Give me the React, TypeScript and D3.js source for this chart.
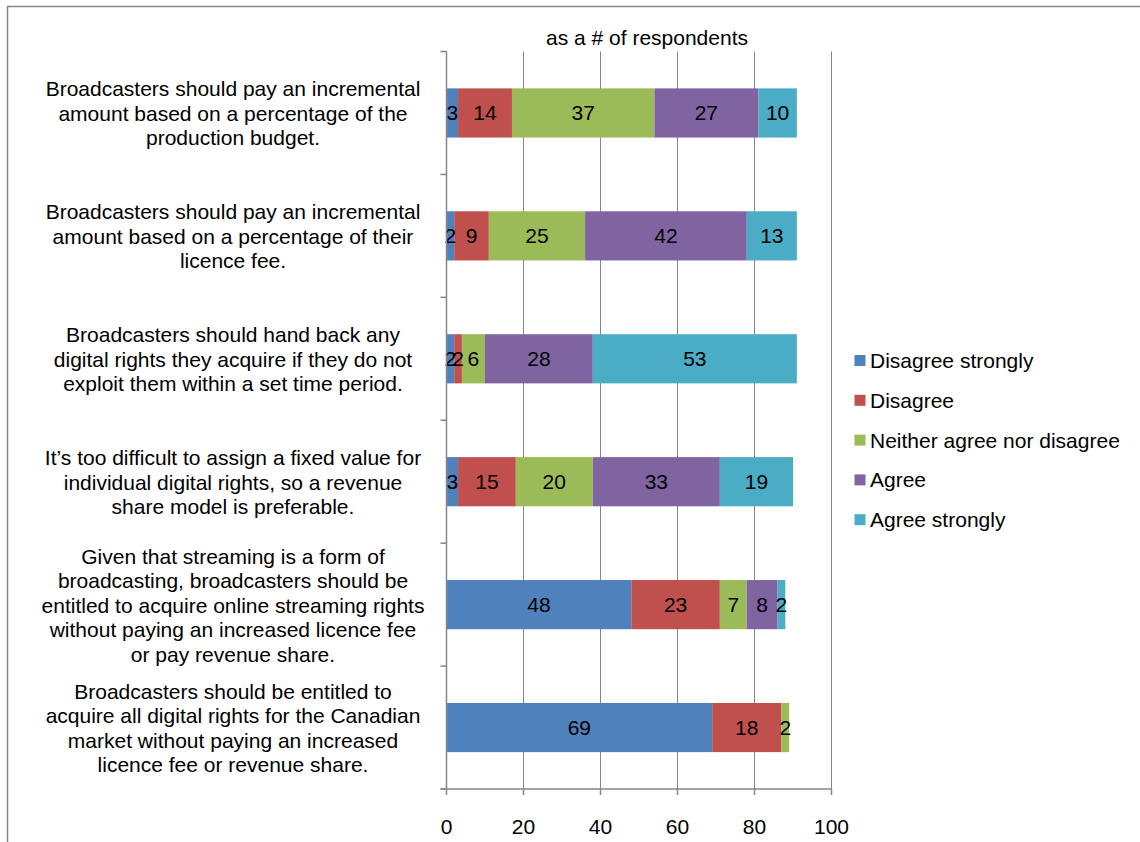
import React from "react";
import * as d3 from "d3";

// Survey statements (top to bottom), each wrapped over several lines
const statements: string[][] = [
  ["Broadcasters should pay an incremental", "amount based on a percentage of the", "production budget."],
  ["Broadcasters should pay an incremental", "amount based on a percentage of their", "licence fee."],
  ["Broadcasters should hand back any", "digital rights they acquire if they do not", "exploit them within a set time period."],
  ["It\u2019s too difficult to assign a fixed value for", "individual digital rights, so a revenue", "share model is preferable."],
  ["Given that streaming is a form of", "broadcasting, broadcasters should be", "entitled to acquire online streaming rights", "without paying an increased licence fee", "or pay revenue share."],
  ["Broadcasters should be entitled to", "acquire all digital rights for the Canadian", "market without paying an increased", "licence fee or revenue share."],
];

const seriesNames = ["Disagree strongly", "Disagree", "Neither agree nor disagree", "Agree", "Agree strongly"];
const seriesColors = ["#4F81BD", "#C0504D", "#9BBB59", "#8064A2", "#4BACC6"];

const disagreeStrongly = [3, 2, 2, 3, 48, 69];
const disagree = [14, 9, 2, 15, 23, 18];
const neither = [37, 25, 6, 20, 7, 2];
const agree = [27, 42, 28, 33, 8, 0];
const agreeStrongly = [10, 13, 53, 19, 2, 0];

const xTicks = [0, 20, 40, 60, 80, 100];
const chartTitle = "as a # of respondents";

const W = 1140;
const H = 842;
const FONT = "'Liberation Sans', Arial, sans-serif";
const FS = 21;
const GRID = "#878787";

export default function App() {
  const seriesValues = [disagreeStrongly, disagree, neither, agree, agreeStrongly];
  const rows = statements.map((_, i) => {
    const r: Record<string, number> = { idx: i };
    seriesNames.forEach((s, k) => (r[s] = seriesValues[k][i]));
    return r;
  });
  const stacked = d3.stack<Record<string, number>>().keys(seriesNames)(rows);

  const x = d3.scaleLinear().domain([0, 100]).range([446.5, 831.5]);
  const y = d3
    .scaleBand<number>()
    .domain(statements.map((_, i) => i))
    .range([51.5, 789])
    .paddingInner(0.6)
    .paddingOuter(0.3);
  const step = y.step();
  const top = 51.5;
  const bottom = 789;
  const lineH = 24.5;

  return (
    <svg
      width={W}
      height={H}
      style={{ position: "absolute", left: 0, top: 0, display: "block", background: "#fff" }}
      fontFamily={FONT}
    >
      {/* outer frame */}
      <line x1={7} y1={6.5} x2={W} y2={6.5} stroke={GRID} strokeWidth={1.5} />
      <line x1={7.5} y1={6} x2={7.5} y2={H} stroke={GRID} strokeWidth={1.5} />

      {/* title */}
      <text x={647} y={37} fontSize={FS} textAnchor="middle" dominantBaseline="central" fill="#000">
        {chartTitle}
      </text>

      {/* vertical gridlines */}
      {xTicks.map((t) => (
        <line key={"g" + t} x1={x(t)} x2={x(t)} y1={top} y2={bottom} stroke={GRID} strokeWidth={1} />
      ))}

      {/* stacked bars */}
      {stacked.map((layer, k) =>
        layer.map((d, i) => {
          const w = x(d[1]) - x(d[0]);
          if (w <= 0) return null;
          return (
            <rect
              key={`b${k}-${i}`}
              x={x(d[0])}
              y={y(i)!}
              width={w}
              height={y.bandwidth()}
              fill={seriesColors[k]}
            />
          );
        })
      )}

      {/* value labels */}
      {stacked.map((layer, k) =>
        layer.map((d, i) => {
          const v = d[1] - d[0];
          if (v <= 0) return null;
          return (
            <text
              key={`l${k}-${i}`}
              x={(x(d[0]) + x(d[1])) / 2}
              y={y(i)! + y.bandwidth() / 2}
              fontSize={FS}
              textAnchor="middle"
              dominantBaseline="central"
              fill="#000"
            >
              {v}
            </text>
          );
        })
      )}

      {/* category axis */}
      <line x1={x(0)} x2={x(0)} y1={top} y2={bottom} stroke={GRID} strokeWidth={1.5} />
      {d3.range(statements.length + 1).map((j) => (
        <line key={"ct" + j} x1={x(0) - 6} x2={x(0)} y1={top + j * step} y2={top + j * step} stroke={GRID} strokeWidth={1.5} />
      ))}

      {/* value axis */}
      <line x1={x(0) - 6} x2={x(100)} y1={bottom} y2={bottom} stroke={GRID} strokeWidth={1.5} />
      {xTicks.map((t) => (
        <g key={"xt" + t}>
          <line x1={x(t)} x2={x(t)} y1={bottom} y2={bottom + 6} stroke={GRID} strokeWidth={1.5} />
          <text x={x(t)} y={826} fontSize={FS} textAnchor="middle" dominantBaseline="central" fill="#000">
            {t}
          </text>
        </g>
      ))}

      {/* category labels */}
      {statements.map((lines, i) => {
        const cy = y(i)! + y.bandwidth() / 2;
        const start = cy - ((lines.length - 1) * lineH) / 2;
        return (
          <text key={"cat" + i} fontSize={FS} textAnchor="middle" dominantBaseline="central" fill="#000">
            {lines.map((ln, j) => (
              <tspan key={j} x={233} y={start + j * lineH}>
                {ln}
              </tspan>
            ))}
          </text>
        );
      })}

      {/* legend */}
      {seriesNames.map((s, k) => {
        const ly = 360.5 + k * 39.8;
        return (
          <g key={"lg" + k}>
            <rect x={854.5} y={ly - 5.5} width={11} height={11} fill={seriesColors[k]} />
            <text x={870} y={ly} fontSize={FS} dominantBaseline="central" fill="#000">
              {s}
            </text>
          </g>
        );
      })}
    </svg>
  );
}
